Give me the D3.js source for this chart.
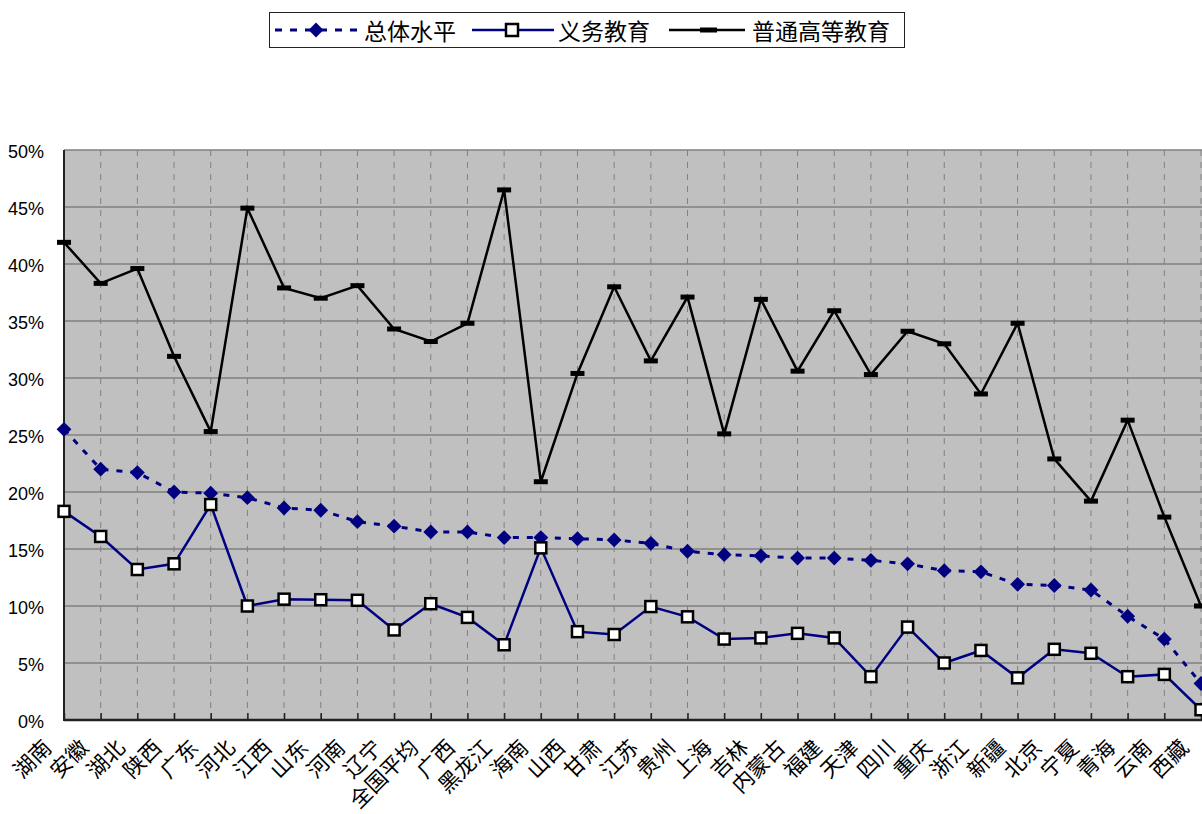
<!doctype html>
<html>
  <meta charset="utf-8">
  <head>
    <script src="https://d3js.org/d3.v7.min.js"></script>
    <style type='text/css'>
      body{ margin:0; background:#fff; }
      .ytick text{ font-family:"Liberation Sans", Arial, sans-serif; font-size:18px; }
      .xlab{ font-family:"Noto Sans CJK SC", sans-serif; font-size:21.5px; }
      .leg text{ font-family:"Noto Sans CJK SC", sans-serif; font-size:23px; }
    </style>
  </head>
  <body>
    <svg id="chart"></svg>
    <script type="text/javascript">
      // categories (provinces), left to right
      var categories = ['湖南','安徽','湖北','陕西','广东','河北','江西','山东','河南','辽宁',
        '全国平均','广西','黑龙江','海南','山西','甘肃','江苏','贵州','上海','吉林',
        '内蒙古','福建','天津','四川','重庆','浙江','新疆','北京','宁夏','青海','云南','西藏'];
      // 总体水平 (%)
      var overall = [25.5,22.0,21.7,20.0,19.9,19.5,18.6,18.4,17.4,17.0,
        16.5,16.5,16.0,16.0,15.9,15.8,15.5,14.8,14.5,14.4,
        14.2,14.2,14.0,13.7,13.1,13.0,11.9,11.8,11.4,9.1,7.1,3.2];
      // 义务教育 (%)
      var compulsory = [18.3,16.1,13.2,13.7,18.9,10.0,10.6,10.55,10.5,7.9,
        10.2,9.0,6.6,15.1,7.75,7.5,9.95,9.05,7.1,7.2,
        7.6,7.2,3.8,8.15,5.0,6.1,3.7,6.2,5.85,3.8,4.0,0.9];
      // 普通高等教育 (%)
      var higher = [41.9,38.3,39.6,31.9,25.3,44.9,37.9,37.0,38.1,34.3,
        33.2,34.8,46.5,20.9,30.4,38.0,31.5,37.1,25.1,36.9,
        30.6,35.9,30.3,34.1,33.0,28.6,34.8,22.9,19.2,26.3,17.8,10.0];
      var yTicks = [0,5,10,15,20,25,30,35,40,45,50];

      var W = 1202, H = 814;
      var padL = 64, padR = 1201, padT = 150, padB = 720;
      var navy = '#000080';

      var svg = d3.select('#chart').attr('width',W).attr('height',H);

      var x = d3.scalePoint().domain(categories).range([padL,padR]);
      var y = d3.scaleLinear().domain([0,50]).range([padB,padT]);

      // plot area
      svg.append('rect').attr('x',padL).attr('y',padT)
        .attr('width',W-padL).attr('height',padB-padT)
        .attr('fill','#c0c0c0');

      // horizontal gridlines
      svg.append('g').selectAll('line').data(yTicks.slice(1)).enter()
        .append('line')
        .attr('x1',padL).attr('x2',W)
        .attr('y1',(d)=>y(d)).attr('y2',(d)=>y(d))
        .attr('stroke','#808080').attr('stroke-width',1.5);

      // vertical dashed gridlines
      svg.append('g').selectAll('line').data(categories.slice(1)).enter()
        .append('line')
        .attr('x1',(d)=>x(d)).attr('x2',(d)=>x(d))
        .attr('y1',padT).attr('y2',padB)
        .attr('stroke','#808080').attr('stroke-width',1)
        .attr('stroke-dasharray','6,6');

      // x axis (ticks inside)
      var xAxis = d3.axisTop(x).tickSize(7).tickFormat('');
      var xg = svg.append('g').attr('transform','translate(0,'+padB+')').call(xAxis);
      xg.select('.domain').remove();
      xg.selectAll('line').attr('stroke','#222').attr('stroke-width',1.5);
      svg.append('line').attr('x1',padL).attr('x2',W)
        .attr('y1',padB).attr('y2',padB)
        .attr('stroke','#222').attr('stroke-width',2.5);

      // y axis
      var yAxis = d3.axisLeft(y).tickValues(yTicks).tickSize(0).tickPadding(20)
        .tickFormat((d)=>d+'%');
      var yg = svg.append('g').attr('class','ytick')
        .attr('transform','translate('+padL+',0)').call(yAxis);
      yg.select('.domain').remove();
      yg.selectAll('text').attr('fill','#000').attr('dy','0.42em');
      svg.append('line').attr('x1',padL).attr('x2',padL)
        .attr('y1',padT).attr('y2',padB+1)
        .attr('stroke','#222').attr('stroke-width',2);

      // category labels
      svg.append('g').selectAll('text').data(categories).enter()
        .append('text').attr('class','xlab')
        .attr('text-anchor','end')
        .attr('transform',(d)=>'translate('+(x(d)-11)+',749) rotate(-45)')
        .text((d)=>d);

      var line = (vals)=>d3.line()
        .x((d,i)=>x(categories[i]))
        .y((d)=>y(d))(vals);

      // 总体水平
      svg.append('path').attr('d',line(overall))
        .attr('fill','none').attr('stroke',navy).attr('stroke-width',3)
        .attr('stroke-dasharray','6,8');
      svg.append('g').selectAll('path').data(overall).enter()
        .append('path')
        .attr('d',d3.symbol().type(d3.symbolSquare).size(110)())
        .attr('transform',(d,i)=>'translate('+x(categories[i])+','+y(d)+') rotate(45)')
        .attr('fill',navy);

      // 普通高等教育
      svg.append('path').attr('d',line(higher))
        .attr('fill','none').attr('stroke','#000').attr('stroke-width',2.5);
      svg.append('g').selectAll('rect').data(higher).enter()
        .append('rect')
        .attr('x',(d,i)=>x(categories[i])-7).attr('y',(d)=>y(d)-2.5)
        .attr('width',14).attr('height',5).attr('fill','#000');

      // 义务教育
      svg.append('path').attr('d',line(compulsory))
        .attr('fill','none').attr('stroke',navy).attr('stroke-width',2.5);
      svg.append('g').selectAll('rect').data(compulsory).enter()
        .append('rect')
        .attr('x',(d,i)=>x(categories[i])-5.5).attr('y',(d)=>y(d)-5.5)
        .attr('width',11).attr('height',11)
        .attr('fill','#fff').attr('stroke','#000').attr('stroke-width',2.5);

      // legend
      var leg = svg.append('g').attr('class','leg');
      leg.append('rect').attr('x',269.5).attr('y',12.5).attr('width',635).attr('height',35)
        .attr('fill','#fff').attr('stroke','#222').attr('stroke-width',1);
      var ly = 30;
      leg.append('line').attr('x1',275).attr('x2',360).attr('y1',ly).attr('y2',ly)
        .attr('stroke',navy).attr('stroke-width',3).attr('stroke-dasharray','7,8');
      leg.append('path').attr('d',d3.symbol().type(d3.symbolSquare).size(110)())
        .attr('transform','translate(316,'+ly+') rotate(45)').attr('fill',navy);
      leg.append('text').attr('x',364).attr('y',ly+9.5).text('总体水平');

      leg.append('line').attr('x1',472).attr('x2',554).attr('y1',ly).attr('y2',ly)
        .attr('stroke',navy).attr('stroke-width',2.5);
      leg.append('rect').attr('x',506).attr('y',ly-6).attr('width',12).attr('height',12)
        .attr('fill','#fff').attr('stroke','#000').attr('stroke-width',2.5);
      leg.append('text').attr('x',558).attr('y',ly+9.5).text('义务教育');

      leg.append('line').attr('x1',669).attr('x2',745).attr('y1',ly).attr('y2',ly)
        .attr('stroke','#000').attr('stroke-width',2.5);
      leg.append('rect').attr('x',700).attr('y',ly-2.5).attr('width',17).attr('height',5)
        .attr('fill','#000');
      leg.append('text').attr('x',752).attr('y',ly+9.5).text('普通高等教育');
    </script>
  </body>
</html>
